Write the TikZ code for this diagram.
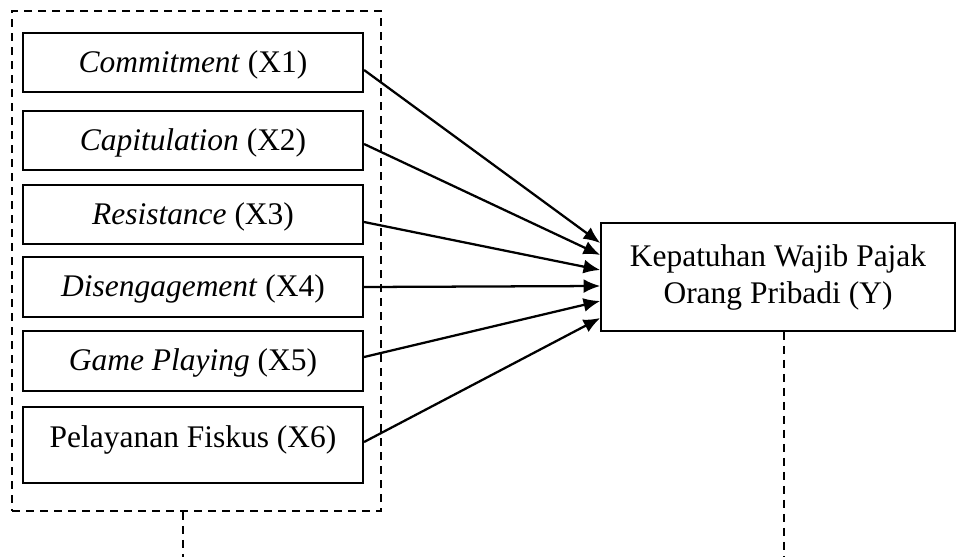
\documentclass[tikz,border=0pt]{standalone}
\usepackage{fontspec}
\setmainfont{Liberation Serif}
\usetikzlibrary{arrows.meta,calc}
\begin{document}
\begin{tikzpicture}[x=0.75pt,y=-0.75pt,
  every node/.style={font=\fontsize{23.6pt}{27.75pt}\selectfont},
  varbox/.style={draw,line width=1.6pt,rectangle,minimum width=255pt,inner sep=0pt,
    text height=18pt,text depth=3.75pt},
  groupbox/.style={draw,dashed,dash pattern=on 6pt off 4.5pt,line width=1.4pt,rectangle,
    minimum width=276.75pt,minimum height=375pt,inner sep=0pt},
  ybox/.style={draw,line width=1.2pt,rectangle,minimum width=265.5pt,minimum height=81pt,
    inner sep=0pt,align=center},
  link/.style={line width=1.7pt,-{Latex[length=12.5pt,width=10.5pt]}},
  dline/.style={dashed,dash pattern=on 6pt off 4.5pt,line width=1.4pt}]
\useasboundingbox (0,0) rectangle (956,557);
\node[groupbox] (grp) at (196.5,261) {};
\node[varbox,minimum height=44.25pt] (b1) at (193,62.5) {\textit{Commitment} (X1)};
\node[varbox,minimum height=44.25pt] (b2) at (193,140.5) {\textit{Capitulation} (X2)};
\node[varbox,minimum height=44.25pt] (b3) at (193,214.5) {\textit{Resistance} (X3)};
\node[varbox,minimum height=45pt] (b4) at (193,287) {\textit{Disengagement} (X4)};
\node[varbox,minimum height=45pt] (b5) at (193,361) {\textit{Game Playing} (X5)};
\node[varbox,minimum height=57pt,text height=16pt,text depth=13pt] (b6) at (193,445) {Pelayanan Fiskus (X6)};
\node[ybox] (Y) at (778,277) {Kepatuhan Wajib Pajak\\Orang Pribadi (Y)};
\coordinate (gend) at (183,557);
\coordinate (yend) at (784,557);
\draw[link] ($(b1.east)+(0,7.5)$) -- ($(Y.west)+(0,-34)$);
\draw[link] ($(b2.east)+(0,3.5)$) -- ($(Y.west)+(0,-22)$);
\draw[link] ($(b3.east)+(0,7.5)$) -- ($(Y.west)+(0,-7)$);
\draw[link] (b4.east) -- ($(Y.west)+(0,9)$);
\draw[link] ($(b5.east)+(0,-4)$) -- ($(Y.west)+(0,24)$);
\draw[link] ($(b6.east)+(0,-3)$) -- ($(Y.west)+(0,41)$);
\draw[dline] (grp.south -| gend) -- (gend);
\draw[dline] (Y.south -| yend) -- (yend);
\end{tikzpicture}
\end{document}
